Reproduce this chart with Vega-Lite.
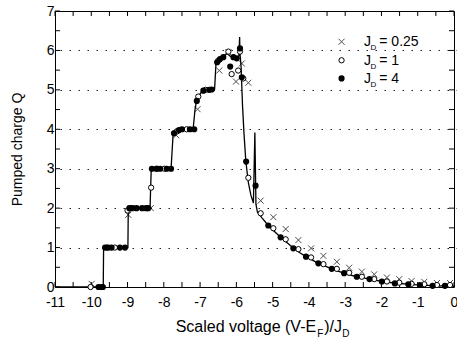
{
  "$schema": "https://vega.github.io/schema/vega-lite/v6.json",
  "width": 399,
  "height": 276,
  "autosize": {"type": "none"},
  "padding": {"left": 55, "top": 11, "right": 3, "bottom": 56},
  "background": "white",
  "config": {
    "view": {"stroke": "black", "strokeWidth": 1},
    "axis": {"domain": false, "ticks": false, "labelColor": "black", "labelFont": "Liberation Sans", "labelFontSize": 14, "offset": -5, "tickSize": 5, "grid": false, "labelFlush": false, "labelOverlap": false},
    "text": {"font": "Liberation Sans", "color": "black"}
  },
  "datasets": {
    "one": [{"k": 1}],
    "xticks": [
      {"v": -11}, {"v": -10.5}, {"v": -10}, {"v": -9.5}, {"v": -9}, {"v": -8.5}, {"v": -8}, {"v": -7.5}, {"v": -7}, {"v": -6.5}, {"v": -6}, {"v": -5.5},
      {"v": -5}, {"v": -4.5}, {"v": -4}, {"v": -3.5}, {"v": -3}, {"v": -2.5}, {"v": -2}, {"v": -1.5}, {"v": -1}, {"v": -0.5}, {"v": 0}
    ],
    "yticks": [
      {"v": 0}, {"v": 0.5}, {"v": 1}, {"v": 1.5}, {"v": 2}, {"v": 2.5}, {"v": 3}, {"v": 3.5}, {"v": 4}, {"v": 4.5}, {"v": 5}, {"v": 5.5}, {"v": 6}, {"v": 6.5}, {"v": 7}
    ],
    "curve": [
      {"x": -11, "y": 0}, {"x": -9.67, "y": 0}, {"x": -9.66, "y": 1}, {"x": -8.99, "y": 1}, {"x": -8.98, "y": 2},
      {"x": -8.38, "y": 2}, {"x": -8.35, "y": 2.9}, {"x": -8.33, "y": 3}, {"x": -7.8, "y": 3}, {"x": -7.74, "y": 3.94},
      {"x": -7.68, "y": 4}, {"x": -7.19, "y": 4.02}, {"x": -7.14, "y": 4.5}, {"x": -7.09, "y": 4.76}, {"x": -6.95, "y": 4.97},
      {"x": -6.6, "y": 5.02}, {"x": -6.56, "y": 5.7}, {"x": -6.45, "y": 5.78}, {"x": -6.36, "y": 5.84}, {"x": -6.26, "y": 5.93},
      {"x": -6.18, "y": 5.86}, {"x": -6.1, "y": 5.82}, {"x": -6.0, "y": 5.8}, {"x": -5.93, "y": 5.86}, {"x": -5.91, "y": 6.34},
      {"x": -5.9, "y": 5.92}, {"x": -5.87, "y": 5.6}, {"x": -5.83, "y": 4.6}, {"x": -5.79, "y": 3.9}, {"x": -5.74, "y": 3.2},
      {"x": -5.67, "y": 2.65}, {"x": -5.6, "y": 2.33}, {"x": -5.53, "y": 2.13}, {"x": -5.49, "y": 3.92}, {"x": -5.46, "y": 2.1},
      {"x": -5.42, "y": 1.9}, {"x": -5.3, "y": 1.76}, {"x": -5.12, "y": 1.56}, {"x": -4.95, "y": 1.41}, {"x": -4.78, "y": 1.26},
      {"x": -4.6, "y": 1.12}, {"x": -4.43, "y": 0.99}, {"x": -4.25, "y": 0.87}, {"x": -4.08, "y": 0.77}, {"x": -3.9, "y": 0.68},
      {"x": -3.74, "y": 0.6}, {"x": -3.55, "y": 0.53}, {"x": -3.37, "y": 0.46}, {"x": -3.2, "y": 0.4}, {"x": -3.03, "y": 0.35},
      {"x": -2.85, "y": 0.3}, {"x": -2.68, "y": 0.26}, {"x": -2.5, "y": 0.23}, {"x": -2.33, "y": 0.2}, {"x": -2.15, "y": 0.17},
      {"x": -1.99, "y": 0.14}, {"x": -1.8, "y": 0.12}, {"x": -1.63, "y": 0.1}, {"x": -1.45, "y": 0.085}, {"x": -1.26, "y": 0.07},
      {"x": -1.1, "y": 0.06}, {"x": -0.94, "y": 0.05}, {"x": -0.75, "y": 0.042}, {"x": -0.59, "y": 0.035}, {"x": -0.4, "y": 0.03},
      {"x": -0.25, "y": 0.025}, {"x": 0, "y": 0.02}
    ],
    "points": [
      {"jd": "0.25", "x": -9.99, "y": 0.08}, {"jd": "0.25", "x": -8.98, "y": 1.83}, {"jd": "0.25", "x": -8.36, "y": 2.0},
      {"jd": "0.25", "x": -7.66, "y": 3.85}, {"jd": "0.25", "x": -7.07, "y": 4.51}, {"jd": "0.25", "x": -6.47, "y": 5.49},
      {"jd": "0.25", "x": -6.22, "y": 5.95}, {"jd": "0.25", "x": -6.01, "y": 5.21}, {"jd": "0.25", "x": -5.85, "y": 5.67},
      {"jd": "0.25", "x": -5.67, "y": 5.18}, {"jd": "0.25", "x": -5.33, "y": 2.19}, {"jd": "0.25", "x": -4.98, "y": 1.77},
      {"jd": "0.25", "x": -4.64, "y": 1.47}, {"jd": "0.25", "x": -4.29, "y": 1.19}, {"jd": "0.25", "x": -3.94, "y": 0.98},
      {"jd": "0.25", "x": -3.6, "y": 0.79}, {"jd": "0.25", "x": -3.23, "y": 0.64}, {"jd": "0.25", "x": -2.89, "y": 0.49},
      {"jd": "0.25", "x": -2.54, "y": 0.39}, {"jd": "0.25", "x": -2.2, "y": 0.32}, {"jd": "0.25", "x": -1.85, "y": 0.24},
      {"jd": "0.25", "x": -1.51, "y": 0.2}, {"jd": "0.25", "x": -1.17, "y": 0.15}, {"jd": "0.25", "x": -0.82, "y": 0.13},
      {"jd": "0.25", "x": -0.47, "y": 0.1}, {"jd": "0.25", "x": -0.11, "y": 0.1},
      {"jd": "1", "x": -10.02, "y": 0}, {"jd": "1", "x": -9.57, "y": 1}, {"jd": "1", "x": -9.35, "y": 1},
      {"jd": "1", "x": -9.0, "y": 1.94}, {"jd": "1", "x": -8.84, "y": 2}, {"jd": "1", "x": -8.35, "y": 2.52},
      {"jd": "1", "x": -8.18, "y": 3}, {"jd": "1", "x": -7.98, "y": 3}, {"jd": "1", "x": -7.63, "y": 3.95},
      {"jd": "1", "x": -7.37, "y": 4}, {"jd": "1", "x": -7.05, "y": 4.83}, {"jd": "1", "x": -6.85, "y": 5},
      {"jd": "1", "x": -6.5, "y": 5.74}, {"jd": "1", "x": -6.22, "y": 5.97}, {"jd": "1", "x": -6.13, "y": 5.4},
      {"jd": "1", "x": -5.95, "y": 5.49}, {"jd": "1", "x": -5.9, "y": 5.97}, {"jd": "1", "x": -5.81, "y": 5.29},
      {"jd": "1", "x": -5.67, "y": 2.77}, {"jd": "1", "x": -5.33, "y": 1.87}, {"jd": "1", "x": -4.98, "y": 1.49},
      {"jd": "1", "x": -4.64, "y": 1.21}, {"jd": "1", "x": -4.29, "y": 0.96}, {"jd": "1", "x": -3.94, "y": 0.75},
      {"jd": "1", "x": -3.6, "y": 0.58}, {"jd": "1", "x": -3.23, "y": 0.46}, {"jd": "1", "x": -2.89, "y": 0.36},
      {"jd": "1", "x": -2.54, "y": 0.26}, {"jd": "1", "x": -2.2, "y": 0.2}, {"jd": "1", "x": -1.85, "y": 0.14},
      {"jd": "1", "x": -1.51, "y": 0.11}, {"jd": "1", "x": -1.17, "y": 0.08}, {"jd": "1", "x": -0.82, "y": 0.07},
      {"jd": "1", "x": -0.47, "y": 0.05}, {"jd": "1", "x": -0.11, "y": 0.05},
      {"jd": "4", "x": -9.8, "y": 0}, {"jd": "4", "x": -9.74, "y": 0}, {"jd": "4", "x": -9.68, "y": 0},
      {"jd": "4", "x": -9.62, "y": 1}, {"jd": "4", "x": -9.53, "y": 1}, {"jd": "4", "x": -9.44, "y": 1},
      {"jd": "4", "x": -9.21, "y": 1}, {"jd": "4", "x": -9.07, "y": 1},
      {"jd": "4", "x": -8.95, "y": 2}, {"jd": "4", "x": -8.89, "y": 2}, {"jd": "4", "x": -8.75, "y": 2},
      {"jd": "4", "x": -8.6, "y": 2}, {"jd": "4", "x": -8.49, "y": 2}, {"jd": "4", "x": -8.43, "y": 2},
      {"jd": "4", "x": -8.33, "y": 3}, {"jd": "4", "x": -8.21, "y": 3}, {"jd": "4", "x": -8.1, "y": 3},
      {"jd": "4", "x": -7.92, "y": 3}, {"jd": "4", "x": -7.8, "y": 3},
      {"jd": "4", "x": -7.72, "y": 3.9}, {"jd": "4", "x": -7.58, "y": 3.98}, {"jd": "4", "x": -7.5, "y": 4},
      {"jd": "4", "x": -7.28, "y": 4}, {"jd": "4", "x": -7.16, "y": 4},
      {"jd": "4", "x": -7.09, "y": 4.72}, {"jd": "4", "x": -6.91, "y": 4.98}, {"jd": "4", "x": -6.75, "y": 5},
      {"jd": "4", "x": -6.68, "y": 5.01},
      {"jd": "4", "x": -6.53, "y": 5.7}, {"jd": "4", "x": -6.45, "y": 5.78}, {"jd": "4", "x": -6.36, "y": 5.83},
      {"jd": "4", "x": -6.17, "y": 5.59}, {"jd": "4", "x": -6.08, "y": 5.83}, {"jd": "4", "x": -5.99, "y": 5.8},
      {"jd": "4", "x": -5.9, "y": 6.05}, {"jd": "4", "x": -5.85, "y": 5.32},
      {"jd": "4", "x": -5.73, "y": 3.18}, {"jd": "4", "x": -5.47, "y": 2.57},
      {"jd": "4", "x": -5.12, "y": 1.56}, {"jd": "4", "x": -4.78, "y": 1.26}, {"jd": "4", "x": -4.43, "y": 0.98},
      {"jd": "4", "x": -4.08, "y": 0.77}, {"jd": "4", "x": -3.74, "y": 0.6}, {"jd": "4", "x": -3.37, "y": 0.46},
      {"jd": "4", "x": -3.03, "y": 0.35}, {"jd": "4", "x": -2.68, "y": 0.26}, {"jd": "4", "x": -2.33, "y": 0.2},
      {"jd": "4", "x": -1.99, "y": 0.14}, {"jd": "4", "x": -1.63, "y": 0.09}, {"jd": "4", "x": -1.26, "y": 0.07},
      {"jd": "4", "x": -0.94, "y": 0.05}, {"jd": "4", "x": -0.59, "y": 0.03}, {"jd": "4", "x": -0.25, "y": 0.03}
    ]
  },
  "layer": [
    {
      "data": {"name": "curve"},
      "mark": {"type": "line", "color": "black", "strokeWidth": 1.3},
      "encoding": {
        "x": {"field": "x", "type": "quantitative", "scale": {"domain": [-11, 0], "nice": false, "zero": false},
          "axis": {"orient": "bottom", "title": null, "values": [-11,-10,-9,-8,-7,-6,-5,-4,-3,-2,-1,0],
            "labelExpr": "'' + datum.value", "labelPadding": 13}},
        "y": {"field": "y", "type": "quantitative", "scale": {"domain": [0, 7], "nice": false, "zero": false},
          "axis": {"orient": "left", "title": "Pumped charge Q", "titleFont": "Liberation Sans", "titleFontSize": 14, "titleFontWeight": "normal", "titleColor": "black",
            "titleX": -39, "titleY": 138, "titleAngle": -90, "titleAlign": "center", "titleBaseline": "alphabetic",
            "values": [0,1,2,3,4,5,6,7],
            "labelExpr": "'' + datum.value", "labelPadding": 6,
            "grid": true, "gridColor": "#222", "gridDash": [1.5, 7.5], "gridWidth": 1,
            "gridOpacity": {"condition": {"test": "datum.value > 0 && datum.value < 7", "value": 1}, "value": 0}}}
      }
    },
    {
      "data": {"name": "xticks"},
      "mark": {"type": "rule", "color": "black", "strokeWidth": 1},
      "encoding": {"x": {"field": "v", "type": "quantitative", "axis": null}, "y": {"datum": 0, "type": "quantitative", "axis": null}, "y2": {"datum": 0.127}}
    },
    {
      "data": {"name": "xticks"},
      "mark": {"type": "rule", "color": "black", "strokeWidth": 1},
      "encoding": {"x": {"field": "v", "type": "quantitative", "axis": null}, "y": {"datum": 7, "type": "quantitative", "axis": null}, "y2": {"datum": 6.873}}
    },
    {
      "data": {"name": "yticks"},
      "mark": {"type": "rule", "color": "black", "strokeWidth": 1},
      "encoding": {"y": {"field": "v", "type": "quantitative", "axis": null}, "x": {"datum": -11, "type": "quantitative", "axis": null}, "x2": {"datum": -10.862}}
    },
    {
      "data": {"name": "yticks"},
      "mark": {"type": "rule", "color": "black", "strokeWidth": 1},
      "encoding": {"y": {"field": "v", "type": "quantitative", "axis": null}, "x": {"datum": 0, "type": "quantitative", "axis": null}, "x2": {"datum": -0.138}}
    },
    {
      "data": {"name": "points"},
      "transform": [{"filter": "datum.jd === '0.25'"}],
      "mark": {"type": "point", "shape": "M-1,-1L1,1M1,-1L-1,1", "filled": false, "stroke": "black", "strokeWidth": 1, "size": 36},
      "encoding": {
        "x": {"field": "x", "type": "quantitative", "axis": null},
        "y": {"field": "y", "type": "quantitative", "axis": null}
      }
    },
    {
      "data": {"name": "points"},
      "transform": [{"filter": "datum.jd === '1'"}],
      "mark": {"type": "point", "shape": "circle", "filled": true, "fill": "white", "stroke": "black", "strokeWidth": 1, "size": 28, "opacity": 1},
      "encoding": {
        "x": {"field": "x", "type": "quantitative", "axis": null},
        "y": {"field": "y", "type": "quantitative", "axis": null}
      }
    },
    {
      "data": {"name": "points"},
      "transform": [{"filter": "datum.jd === '4'"}],
      "mark": {"type": "point", "shape": "circle", "filled": true, "color": "black", "size": 38, "opacity": 1},
      "encoding": {
        "x": {"field": "x", "type": "quantitative", "axis": null},
        "y": {"field": "y", "type": "quantitative", "axis": null}
      }
    },
    {
      "data": {"name": "one"},
      "mark": {"type": "point", "shape": "M-1,-1L1,1M1,-1L-1,1", "filled": false, "stroke": "black", "strokeWidth": 1, "size": 36},
      "encoding": {"x": {"datum": -3.1, "type": "quantitative", "axis": null}, "y": {"datum": 6.22, "type": "quantitative", "axis": null}}
    },
    {
      "data": {"name": "one"},
      "mark": {"type": "point", "shape": "circle", "filled": true, "fill": "white", "stroke": "black", "strokeWidth": 1, "size": 28, "opacity": 1},
      "encoding": {"x": {"datum": -3.1, "type": "quantitative", "axis": null}, "y": {"datum": 5.75, "type": "quantitative", "axis": null}}
    },
    {
      "data": {"name": "one"},
      "mark": {"type": "point", "shape": "circle", "filled": true, "color": "black", "size": 38, "opacity": 1},
      "encoding": {"x": {"datum": -3.1, "type": "quantitative", "axis": null}, "y": {"datum": 5.29, "type": "quantitative", "axis": null}}
    },
    {"data": {"name": "one"}, "mark": {"type": "text", "text": "J", "align": "left", "baseline": "alphabetic", "fontSize": 14},
     "encoding": {"x": {"datum": -2.48, "type": "quantitative", "axis": null}, "y": {"datum": 6.1, "type": "quantitative", "axis": null}}},
    {"data": {"name": "one"}, "mark": {"type": "text", "text": "D", "align": "left", "baseline": "alphabetic", "fontSize": 8, "dy": 4},
     "encoding": {"x": {"datum": -2.3, "type": "quantitative", "axis": null}, "y": {"datum": 6.1, "type": "quantitative", "axis": null}}},
    {"data": {"name": "one"}, "mark": {"type": "text", "text": "= 0.25", "align": "left", "baseline": "alphabetic", "fontSize": 14},
     "encoding": {"x": {"datum": -2.06, "type": "quantitative", "axis": null}, "y": {"datum": 6.1, "type": "quantitative", "axis": null}}},
    {"data": {"name": "one"}, "mark": {"type": "text", "text": "J", "align": "left", "baseline": "alphabetic", "fontSize": 14},
     "encoding": {"x": {"datum": -2.48, "type": "quantitative", "axis": null}, "y": {"datum": 5.63, "type": "quantitative", "axis": null}}},
    {"data": {"name": "one"}, "mark": {"type": "text", "text": "D", "align": "left", "baseline": "alphabetic", "fontSize": 8, "dy": 4},
     "encoding": {"x": {"datum": -2.3, "type": "quantitative", "axis": null}, "y": {"datum": 5.63, "type": "quantitative", "axis": null}}},
    {"data": {"name": "one"}, "mark": {"type": "text", "text": "= 1", "align": "left", "baseline": "alphabetic", "fontSize": 14},
     "encoding": {"x": {"datum": -2.06, "type": "quantitative", "axis": null}, "y": {"datum": 5.63, "type": "quantitative", "axis": null}}},
    {"data": {"name": "one"}, "mark": {"type": "text", "text": "J", "align": "left", "baseline": "alphabetic", "fontSize": 14},
     "encoding": {"x": {"datum": -2.48, "type": "quantitative", "axis": null}, "y": {"datum": 5.17, "type": "quantitative", "axis": null}}},
    {"data": {"name": "one"}, "mark": {"type": "text", "text": "D", "align": "left", "baseline": "alphabetic", "fontSize": 8, "dy": 4},
     "encoding": {"x": {"datum": -2.3, "type": "quantitative", "axis": null}, "y": {"datum": 5.17, "type": "quantitative", "axis": null}}},
    {"data": {"name": "one"}, "mark": {"type": "text", "text": "= 4", "align": "left", "baseline": "alphabetic", "fontSize": 14},
     "encoding": {"x": {"datum": -2.06, "type": "quantitative", "axis": null}, "y": {"datum": 5.17, "type": "quantitative", "axis": null}}},
    {"data": {"name": "one"}, "mark": {"type": "text", "text": "Scaled voltage (V-E", "align": "right", "baseline": "alphabetic", "fontSize": 16},
     "encoding": {"x": {"datum": -3.8, "type": "quantitative", "axis": null}, "y": {"datum": -1.14, "type": "quantitative", "axis": null}}},
    {"data": {"name": "one"}, "mark": {"type": "text", "text": "F", "align": "left", "baseline": "alphabetic", "fontSize": 10, "dy": 5},
     "encoding": {"x": {"datum": -3.77, "type": "quantitative", "axis": null}, "y": {"datum": -1.14, "type": "quantitative", "axis": null}}},
    {"data": {"name": "one"}, "mark": {"type": "text", "text": ")/J", "align": "left", "baseline": "alphabetic", "fontSize": 16},
     "encoding": {"x": {"datum": -3.58, "type": "quantitative", "axis": null}, "y": {"datum": -1.14, "type": "quantitative", "axis": null}}},
    {"data": {"name": "one"}, "mark": {"type": "text", "text": "D", "align": "left", "baseline": "alphabetic", "fontSize": 10, "dy": 5},
     "encoding": {"x": {"datum": -3.08, "type": "quantitative", "axis": null}, "y": {"datum": -1.14, "type": "quantitative", "axis": null}}}
  ],
  "resolve": {"axis": {"x": "independent", "y": "independent"}}
}
